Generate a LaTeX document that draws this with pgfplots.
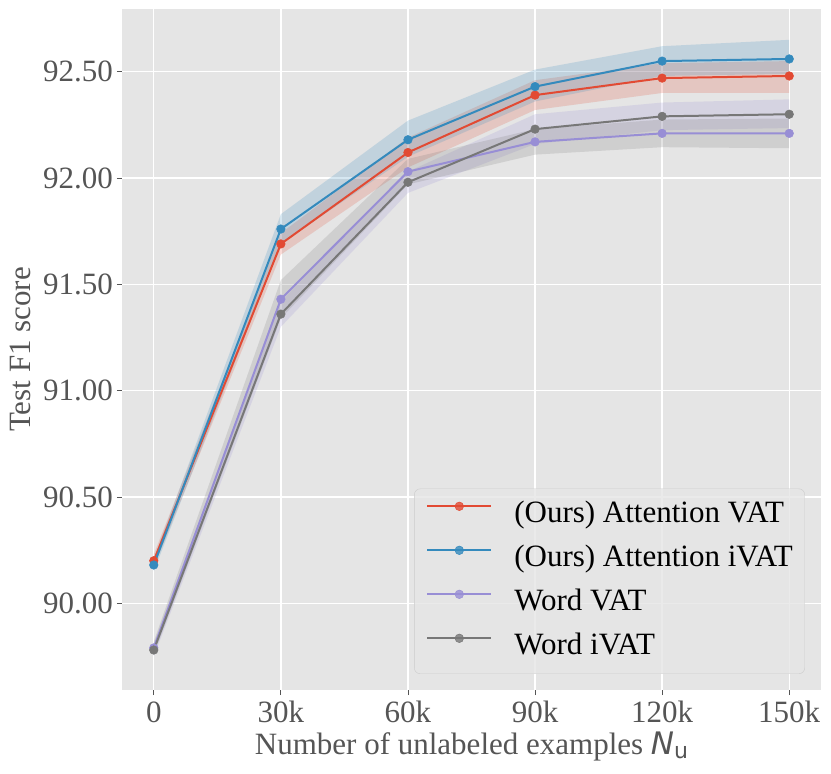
\documentclass[border=0pt]{standalone}
\usepackage{fontspec}
\setmainfont{Liberation Serif}
\newfontfamily\dvs{DejaVu Sans}
\usepackage{pgfplots}
\pgfplotsset{compat=1.18}
\definecolor{cred}{HTML}{E24A33}
\definecolor{cblue}{HTML}{348ABD}
\definecolor{cpurple}{HTML}{988ED5}
\definecolor{cgray}{HTML}{777777}
\definecolor{bg}{HTML}{E5E5E5}
\definecolor{lab}{HTML}{555555}
\definecolor{ledge}{HTML}{CCCCCC}
\begin{document}
\fontsize{31bp}{37bp}\selectfont
\begin{tikzpicture}
\begin{axis}[
  at={(0,0)}, anchor=south west,
  scale only axis, width=699bp, height=681bp,
  xmin=-7.5, xmax=157.5, ymin=89.592, ymax=92.795,
  axis background/.style={fill=bg},
  axis line style={draw=none},
  grid=major, major grid style={white, line width=1.3bp},
  xtick={0,30,60,90,120,150}, xticklabels={0,30k,60k,90k,120k,150k},
  ytick={90,90.5,91,91.5,92,92.5},
  yticklabels={90.00,90.50,91.00,91.50,92.00,92.50},
  xtick pos=bottom, ytick pos=left,
  tick align=outside, major tick length=5bp,
  tick style={lab, line width=0.8bp},
  xticklabel style={font=\fontsize{31bp}{37bp}\selectfont, text=lab, inner sep=0pt, anchor=base, yshift=-27bp},
  yticklabel style={font=\fontsize{31bp}{37bp}\selectfont, text=lab, inner sep=0pt, anchor=east, xshift=-4bp},
  xlabel={Number of unlabeled examples {\dvs\itshape N}\raisebox{-4bp}{\dvs\fontsize{22bp}{22bp}\selectfont u}},
  xlabel style={at={(axis description cs:0.5,0)}, anchor=base, yshift=-64bp, inner sep=0pt, text=lab, font=\fontsize{31bp}{37bp}\selectfont},
  ylabel={Test F1 score},
  ylabel style={at={(axis description cs:-0.1309,0.5)}, anchor=base, inner sep=0pt, text=lab, font=\fontsize{31bp}{37bp}\selectfont},
  legend style={at={(rel axis cs:0.977,0.0235)}, anchor=south east,
    fill=bg, fill opacity=0.8, text opacity=1, draw=ledge, rounded corners=6bp,
    inner xsep=12bp, inner ysep=12bp, font=\fontsize{31bp}{37bp}\selectfont, text=black,
    row sep=15bp, column sep=22bp,
    nodes={inner sep=0pt, text height=22bp, text depth=7bp}},
  legend cell align=left,
  legend image code/.code={\draw[mark repeat=2,mark phase=2,#1] plot coordinates {(0bp,9bp) (32bp,9bp) (64bp,9bp)};},
]
% bands
\addplot[fill=cred, fill opacity=0.2, draw=none, forget plot] coordinates {
 (0,90.23) (30,91.74) (60,92.19) (90,92.46) (120,92.54) (150,92.55)
 (150,92.40) (120,92.40) (90,92.32) (60,92.05) (30,91.64) (0,90.17)} -- cycle;
\addplot[fill=cblue, fill opacity=0.2, draw=none, forget plot] coordinates {
 (0,90.21) (30,91.83) (60,92.27) (90,92.51) (120,92.62) (150,92.65)
 (150,92.49) (120,92.48) (90,92.36) (60,92.10) (30,91.69) (0,90.15)} -- cycle;
\addplot[fill=cpurple, fill opacity=0.2, draw=none, forget plot] coordinates {
 (0,89.81) (30,91.42) (60,92.03) (90,92.30) (120,92.355) (150,92.37)
 (150,92.235) (120,92.225) (90,92.16) (60,91.93) (30,91.30) (0,89.75)} -- cycle;
\addplot[fill=cgray, fill opacity=0.2, draw=none, forget plot] coordinates {
 (0,89.82) (30,91.52) (60,92.09) (90,92.23) (120,92.275) (150,92.28)
 (150,92.14) (120,92.145) (90,92.11) (60,91.97) (30,91.34) (0,89.76)} -- cycle;
% lines
\addplot[cred, line width=2bp, mark=*, mark size=4.3bp, mark options={solid, line width=0.5bp}] coordinates {
 (0,90.20) (30,91.69) (60,92.12) (90,92.39) (120,92.47) (150,92.48)};
\addlegendentry{(Ours) Attention VAT}
\addplot[cblue, line width=2bp, mark=*, mark size=4.3bp, mark options={solid, line width=0.5bp}] coordinates {
 (0,90.18) (30,91.76) (60,92.18) (90,92.43) (120,92.55) (150,92.56)};
\addlegendentry{(Ours) Attention iVAT}
\addplot[cpurple, line width=2bp, mark=*, mark size=4.3bp, mark options={solid, line width=0.5bp}] coordinates {
 (0,89.79) (30,91.43) (60,92.03) (90,92.17) (120,92.21) (150,92.21)};
\addlegendentry{Word VAT}
\addplot[cgray, line width=2bp, mark=*, mark size=4.3bp, mark options={solid, line width=0.5bp}] coordinates {
 (0,89.78) (30,91.36) (60,91.98) (90,92.23) (120,92.29) (150,92.30)};
\addlegendentry{Word iVAT}
\end{axis}
\pgfresetboundingbox
\useasboundingbox (-122bp,-84bp) rectangle (709bp,690bp);
\end{tikzpicture}
\end{document}
